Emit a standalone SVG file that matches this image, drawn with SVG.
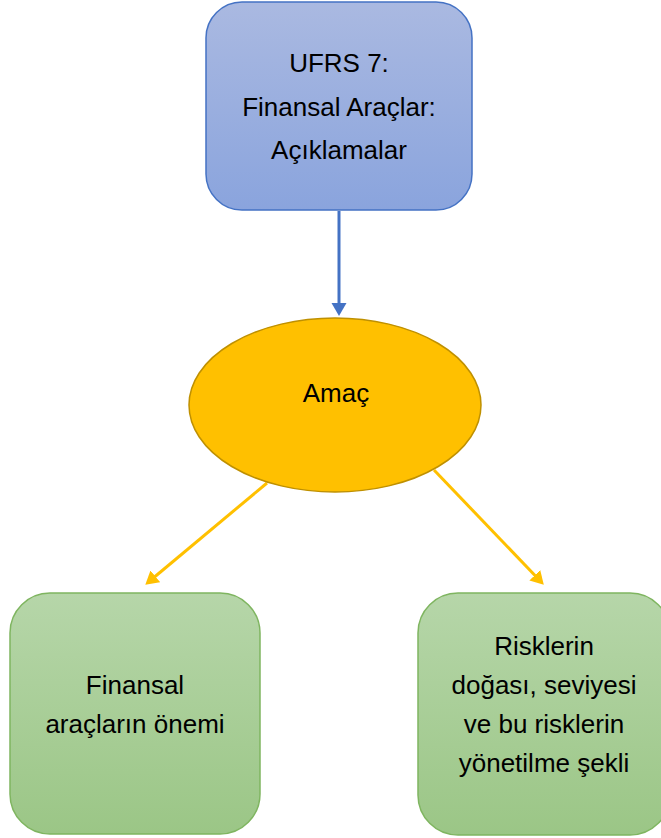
<svg xmlns="http://www.w3.org/2000/svg" width="661" height="838" viewBox="0 0 661 838">
  <defs>
    <linearGradient id="gBlue" x1="0" y1="0" x2="0" y2="1">
      <stop offset="0" stop-color="#aab9e1"/>
      <stop offset="1" stop-color="#8aa4dd"/>
    </linearGradient>
    <linearGradient id="gGreen" x1="0" y1="0" x2="0" y2="1">
      <stop offset="0" stop-color="#b6d6a9"/>
      <stop offset="1" stop-color="#9bc686"/>
    </linearGradient>
    <marker id="headBlue" markerUnits="userSpaceOnUse" markerWidth="14" markerHeight="16" refX="1" refY="7.5" orient="auto">
      <path d="M0,0 L13,7.5 L0,15 z" fill="#4472c4"/>
    </marker>
    <marker id="headGold" markerUnits="userSpaceOnUse" markerWidth="14" markerHeight="16" refX="1" refY="7.5" orient="auto">
      <path d="M0,0 L13,7.5 L0,15 z" fill="#ffc000"/>
    </marker>
  </defs>
  <style>
    .lbl { font-family: "Liberation Sans", Arial, sans-serif; font-size: 26px; fill: #000; text-anchor: middle; }
    .box { stroke-width: 1.5; }
  </style>

  <rect width="661" height="838" fill="#ffffff"/>

  <g id="connectors" fill="none" stroke-width="3">
    <line x1="339" y1="211" x2="339" y2="304" stroke="#4472c4" marker-end="url(#headBlue)"/>
    <line x1="267" y1="483" x2="154.5" y2="577" stroke="#ffc000" marker-end="url(#headGold)"/>
    <line x1="434" y1="470" x2="535.5" y2="576" stroke="#ffc000" marker-end="url(#headGold)"/>
  </g>

  <g id="node-ufrs7">
    <rect class="box" x="206" y="2" width="266" height="208" rx="36" fill="url(#gBlue)" stroke="#4472c4"/>
    <text class="lbl" x="339" y="72">UFRS 7:</text>
    <text class="lbl" x="339" y="116">Finansal Araçlar:</text>
    <text class="lbl" x="339" y="159">Açıklamalar</text>
  </g>

  <g id="node-amac">
    <ellipse class="box" cx="335" cy="405" rx="146" ry="87" fill="#ffc000" stroke="#bf9000"/>
    <text class="lbl" x="336" y="402">Amaç</text>
  </g>

  <g id="node-onem">
    <rect class="box" x="10" y="593" width="250" height="241" rx="40" fill="url(#gGreen)" stroke="#7fb560"/>
    <text class="lbl" x="135" y="694">Finansal</text>
    <text class="lbl" x="135" y="733">araçların önemi</text>
  </g>

  <g id="node-riskler">
    <rect class="box" x="418" y="593" width="252" height="242" rx="40" fill="url(#gGreen)" stroke="#7fb560"/>
    <text class="lbl" x="544" y="655">Risklerin</text>
    <text class="lbl" x="544" y="694">doğası, seviyesi</text>
    <text class="lbl" x="544" y="733">ve bu risklerin</text>
    <text class="lbl" x="544" y="772">yönetilme şekli</text>
  </g>
</svg>
